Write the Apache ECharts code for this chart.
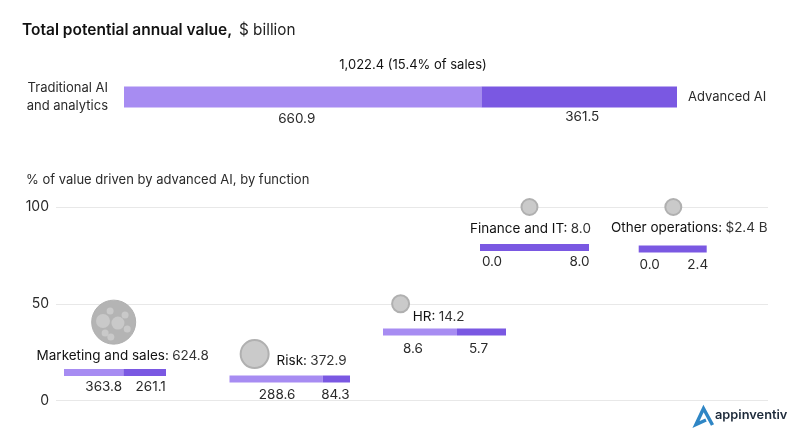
<!DOCTYPE html>
<html>
<head>
<meta charset="utf-8">
<script src="https://cdn.jsdelivr.net/npm/echarts@6/dist/echarts.min.js"></script>
<style>
  html, body { margin: 0; background: #fff; }
  #chart { width: 800px; height: 439px; }
</style>
</head>
<body>
<div id="chart"></div>
<script>
// 数据
var functionNames = ['Marketing and sales', 'Risk', 'HR', 'Finance and IT', 'Other operations'];
var functionTotals = ['624.8', '372.9', '14.2', '8.0', '$2.4 B'];
var traditionalValues = [363.8, 288.6, 8.6, 0.0, 0.0];
var advancedValues = [261.1, 84.3, 5.7, 8.0, 2.4];
var advancedShare = [40.5, 24, 50, 100, 100];
var bubblePositions = [8.1, 27.9, 48.4, 66.5, 86.7];
var innerBubbles = [[8.7, 40], [6.6, 41.1], [7.6, 46.3], [9.7, 44.2], [10, 37], [6.9, 34.9], [7.7, 32.8]];
var innerBubbleSizes = [13, 14, 7, 7, 7, 7, 7];
var totalTraditional = 660.9;
var totalAdvanced = 361.5;
var yTicks = [0, 50, 100];

// 布局
var bubbleSizes = [44, 28, 17, 16, 16];
var barBoxes = [
  { left: 64, width: 102, top: 369 },
  { left: 229.5, width: 120.5, top: 375.5 },
  { left: 383, width: 123, top: 328.5 },
  { left: 480, width: 109, top: 244 },
  { left: 638.7, width: 68, top: 245.5 }
];
var tradLabelOffsets = [[10, 1], [1, 2], [-7, 3], [12, 1], [11, 2]];
var advLabelOffsets = [[6, 1], [-1, 2], [-3, 3], [45, 1], [25, 2]];
var nameLabelOffsets = [[9, 34], [57, 7], [38, 13], [1, 22], [16, 21]];

var LIGHT = '#a78cf2';
var DARK = '#7a58e2';
var FONT = 'Inter, "Liberation Sans", sans-serif';

var grids = [{ left: 56, width: 712, top: 207, height: 193.5 }];
var xAxes = [{ gridIndex: 0, type: 'value', min: 0, max: 100, show: false }];
var yAxes = [{
  gridIndex: 0, type: 'value', min: 0, max: 100, interval: 50,
  axisLine: { show: false }, axisTick: { show: false },
  axisLabel: { color: '#2a2a2a', fontFamily: FONT, fontSize: 14, margin: 7, padding: [4, 0, 0, 0],
    formatter: function (v) { return yTicks.indexOf(v) > -1 ? v : ''; } },
  splitLine: { lineStyle: { color: '#e8e8e8', width: 1 } }
}];
var series = [];

// 一行堆叠条：自己的grid和比例尺
function addBarRow(box, trad, adv, barHeight, tradOffset, advOffset, labelGap) {
  var i = grids.length;
  grids.push({ left: box.left, width: box.width, top: box.top, height: barHeight });
  xAxes.push({ gridIndex: i, type: 'value', min: 0, max: trad + adv, show: false });
  yAxes.push({ gridIndex: i, type: 'category', data: [''], show: false });
  [[trad, LIGHT, tradOffset], [adv, DARK, advOffset]].forEach(function (part) {
    series.push({
      type: 'bar', xAxisIndex: i, yAxisIndex: i, stack: 'row' + i,
      barWidth: barHeight, data: [part[0]],
      itemStyle: { color: part[1] },
      label: {
        show: true, position: 'bottom', distance: labelGap, offset: part[2],
        color: '#2a2a2a', fontFamily: FONT, fontSize: 13.5,
        formatter: function (p) { return p.value.toFixed(1); }
      }
    });
  });
}

addBarRow({ left: 124, width: 553, top: 86.5 }, totalTraditional, totalAdvanced, 21, [-6, 2], [3, 0], 2);
functionNames.forEach(function (name, i) {
  addBarRow(barBoxes[i], traditionalValues[i], advancedValues[i], 7, tradLabelOffsets[i], advLabelOffsets[i], 3);
});

// 气泡
series.push({
  type: 'scatter', xAxisIndex: 0, yAxisIndex: 0, clip: false, z: 3,
  data: functionNames.map(function (name, i) {
    return {
      name: name,
      value: [bubblePositions[i], advancedShare[i]],
      symbolSize: bubbleSizes[i],
      itemStyle: i === 0
        ? { color: '#b4b4b4', borderColor: '#b0b0b0', borderWidth: 1, opacity: 1 }
        : { color: '#cacaca', borderColor: '#b0b0b0', borderWidth: 2, opacity: 1 },
      label: {
        show: true, position: 'inside', offset: nameLabelOffsets[i],
        formatter: '{n|' + name + ':} {v|' + functionTotals[i] + '}',
        rich: {
          n: { color: '#111', fontFamily: FONT, fontSize: 13.5 },
          v: { color: '#333', fontFamily: FONT, fontSize: 13.5 }
        }
      }
    };
  })
});
series.push({
  type: 'scatter', xAxisIndex: 0, yAxisIndex: 0, clip: false, z: 4, silent: true,
  data: innerBubbles.map(function (p, i) {
    return { value: p, symbolSize: innerBubbleSizes[i] };
  }),
  itemStyle: { color: '#c9c9c9', opacity: 1 }
});

function txt(x, y, text, extra) {
  return {
    type: 'text', x: x, y: y, silent: true,
    style: Object.assign({ text: text, fill: '#2a2a2a', font: '13px ' + FONT, textVerticalAlign: 'middle' }, extra || {})
  };
}

var chart = echarts.init(document.getElementById('chart'));
chart.setOption({
  animation: false,
  backgroundColor: '#fff',
  grid: grids,
  xAxis: xAxes,
  yAxis: yAxes,
  series: series,
  graphic: [
    txt(22, 30, 'Total potential annual value,', { fill: '#111', font: '600 15.5px ' + FONT }),
    txt(239, 30, '$ billion', { fill: '#222', font: '15.3px ' + FONT }),
    txt(413, 65, '1,022.4 (15.4% of sales)', { fill: '#111', textAlign: 'center' }),
    txt(108, 88, 'Traditional AI', { textAlign: 'right' }),
    txt(108, 106, 'and analytics', { textAlign: 'right' }),
    txt(688, 97, 'Advanced AI'),
    txt(26, 180, '% of value driven by advanced AI, by function', { font: '13px ' + FONT }),
    {
      type: 'polyline', silent: true,
      shape: { points: [[706, 420], [696, 424.5], [703.5, 408.5], [712.5, 425]] },
      style: { stroke: '#2f86c5', lineWidth: 3.5, fill: null }
    },
    txt(715, 415, 'appinventiv', { fill: '#1d2a3a', font: '600 12.8px ' + FONT })
  ]
});
</script>
</body>
</html>
